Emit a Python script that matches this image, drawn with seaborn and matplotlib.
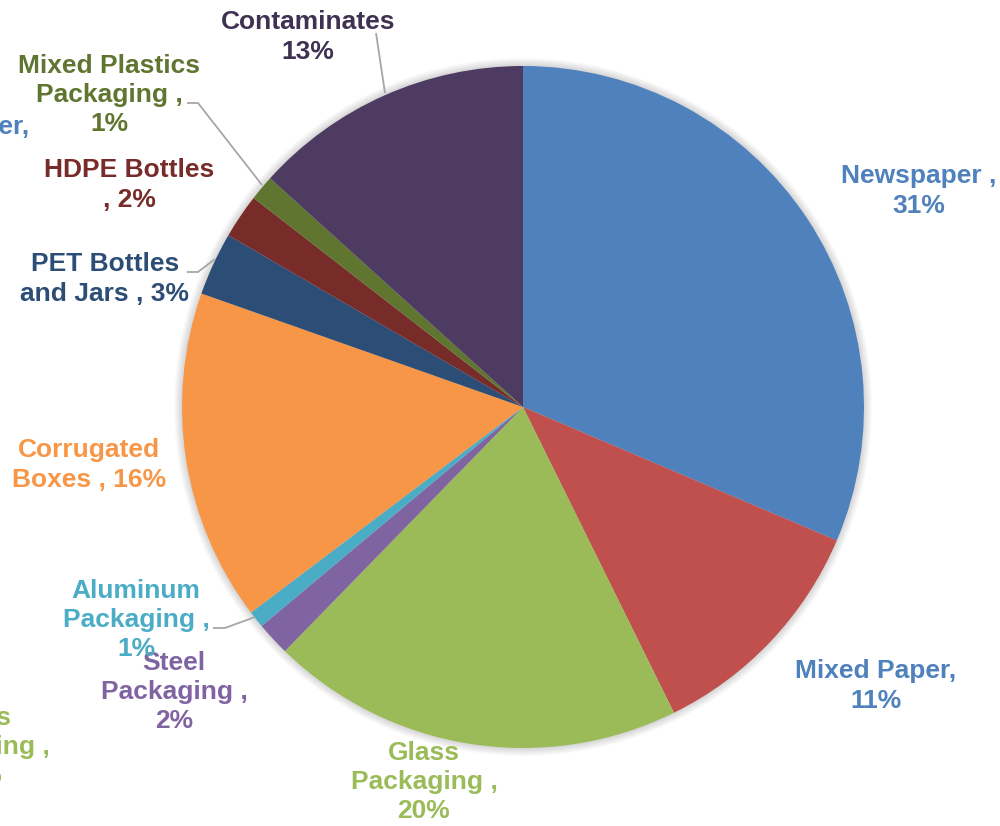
import matplotlib
matplotlib.use("Agg")
import matplotlib.pyplot as plt
from matplotlib.patches import Circle
import seaborn as sns

# Composition of recyclables (percent of stream), clockwise from 12 o'clock
categories = ["Newspaper", "Mixed Paper", "Glass Packaging", "Steel Packaging",
              "Aluminum Packaging", "Corrugated Boxes", "PET Bottles and Jars",
              "HDPE Bottles", "Mixed Plastics Packaging", "Contaminates"]
shares = [31.4, 11.3, 19.6, 1.6, 0.8, 15.7, 3.0, 2.1, 1.2, 13.3]
slice_colors = ["#4F81BD", "#C0504D", "#9BBB59", "#8064A2", "#4BACC6",
                "#F79646", "#2C4D75", "#772C2A", "#5F7530", "#4D3B62"]

# Label text templates and colours (label text uses the rounded share)
label_templates = ["Newspaper ,\n{}%", "Mixed Paper,\n{}%", "Glass\nPackaging ,\n{}%",
                   "Steel\nPackaging ,\n{}%", "Aluminum\nPackaging ,\n{}%",
                   "Corrugated\nBoxes , {}%", "PET Bottles\nand Jars , {}%",
                   "HDPE Bottles\n, {}%", "Mixed Plastics\nPackaging ,\n{}%",
                   "Contaminates\n{}%"]
label_colors = ["#4F81BD", "#4F81BD", "#9BBB59", "#8064A2", "#4BACC6",
                "#F79646", "#2C4D75", "#772C2A", "#5F7530", "#3F3151"]

sns.set_theme(style="white")
plt.rcParams["font.family"] = ["Liberation Sans", "DejaVu Sans"]

W, H = 1000, 826
fig = plt.figure(figsize=(W / 100, H / 100), dpi=100)
ax = fig.add_axes([0, 0, 1, 1])

cx, cy, R = 523, H - 407, 341

# soft outer shadow around the pie
for i in range(8, 0, -1):
    ax.add_patch(Circle((cx, cy), R + i * 1.0, color="#000000", alpha=0.018,
                        lw=0, zorder=1))

palette = sns.color_palette(slice_colors)
ax.pie(shares, colors=palette, startangle=90, counterclock=False,
       center=(cx, cy), radius=R, frame=True,
       wedgeprops=dict(linewidth=0, zorder=2))
ax.set_xlim(0, W)
ax.set_ylim(0, H)
ax.set_aspect("equal")
ax.axis("off")

# label block centres (pixel coordinates from top-left)
label_pos = [(919, 191), (876, 686), (424, 782), (174, 692), (136, 620),
             (89, 465), (105, 279), (129, 185), (109, 95), (308, 37)]

font_kw = dict(fontsize=19, fontweight="bold", ha="center", va="center",
               multialignment="center", linespacing=1.27, zorder=5)

for tmpl, share, col, (px, py) in zip(label_templates, shares, label_colors, label_pos):
    ax.text(px, H - py, tmpl.format(round(share)), color=col, **font_kw)

# labels of the neighbouring chart that run in from the left edge
ax.text(-51, H - 142, "Mixed Paper,\n11%", color="#4F81BD", clip_on=False, **font_kw)
ax.text(-24, H - 747, "Glass\nPackaging ,\n20%", color="#9BBB59", clip_on=False, **font_kw)

# leader lines
leader = dict(color="#A6A6A6", lw=1.3, zorder=4, solid_capstyle="butt")
for pts in [[(376, 33), (385, 93)],
            [(187, 103), (198, 103), (262, 185)],
            [(187, 272), (198, 272), (215, 259)],
            [(213, 628), (225, 628), (255, 617)]]:
    xs = [p[0] for p in pts]
    ys = [H - p[1] for p in pts]
    ax.plot(xs, ys, **leader)

fig.savefig("out.png", dpi=100)
